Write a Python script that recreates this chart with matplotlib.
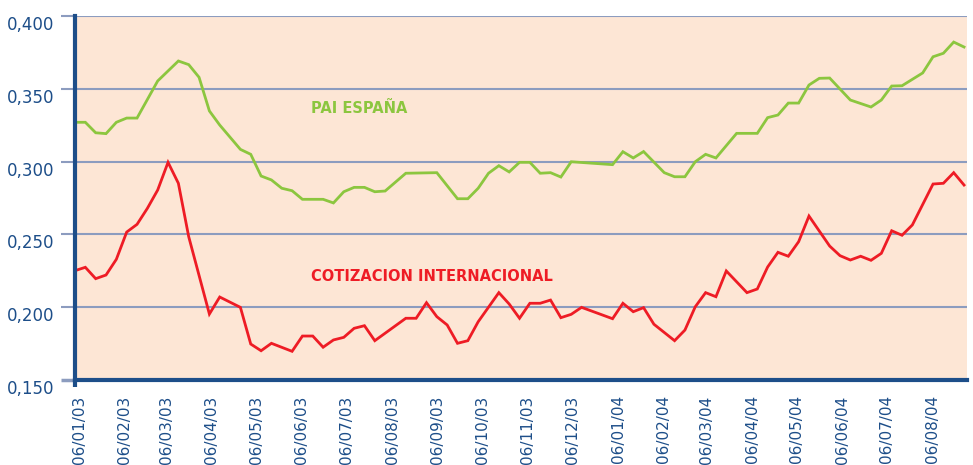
import datetime as dt
import matplotlib
matplotlib.use("Agg")
import matplotlib.pyplot as plt
import matplotlib.dates as mdates
import matplotlib.transforms as mtransforms

start = dt.date(2003, 1, 6)

# weekly series, week number counted from 06/01/03
pai_weeks = [0, 1, 2, 3, 4, 5, 6, 8, 10, 11, 12, 13, 14, 16, 17, 18, 19, 20, 21, 22,
             24, 25, 26, 27, 28, 29, 30, 32, 35, 37, 38, 39, 40, 41, 42, 43, 44, 45,
             46, 47, 48, 52, 53, 54, 55, 57, 58, 59, 60, 61, 62, 64, 66, 67, 68, 69,
             70, 71, 72, 73, 75, 77, 78, 79, 80, 82, 83, 84, 85, 86]
pai_values = [0.3270, 0.3270, 0.3198, 0.3192, 0.3270, 0.3299, 0.3299, 0.3554, 0.3691,
              0.3666, 0.3579, 0.3348, 0.3251, 0.3084, 0.3050, 0.2901, 0.2874, 0.2817,
              0.2800, 0.2741, 0.2741, 0.2716, 0.2793, 0.2823, 0.2823, 0.2793, 0.2798,
              0.2920, 0.2924, 0.2745, 0.2745, 0.2817, 0.2920, 0.2972, 0.2929, 0.2995,
              0.2995, 0.2920, 0.2924, 0.2894, 0.2999, 0.2979, 0.3068, 0.3025, 0.3069,
              0.2924, 0.2896, 0.2896, 0.2999, 0.3050, 0.3025, 0.3194, 0.3194, 0.3302,
              0.3320, 0.3402, 0.3402, 0.3526, 0.3572, 0.3574, 0.3423, 0.3375, 0.3423,
              0.3519, 0.3521, 0.3609, 0.3720, 0.3744, 0.3821, 0.3787]

cot_weeks = [0, 1, 2, 3, 4, 5, 6, 7, 8, 9, 10, 11, 13, 14, 16, 17, 18, 19, 21, 22, 23,
             24, 25, 26, 27, 28, 29, 32, 33, 34, 35, 36, 37, 38, 39, 41, 42, 43, 44, 45,
             46, 47, 48, 49, 52, 53, 54, 55, 56, 58, 59, 60, 61, 62, 63, 65, 66, 67, 68,
             69, 70, 71, 73, 74, 75, 76, 77, 78, 79, 80, 81, 83, 84, 85, 86]
cot_values = [0.2251, 0.2274, 0.2196, 0.2221, 0.2329, 0.2516, 0.2569, 0.2679, 0.2805,
              0.2995, 0.2851, 0.2484, 0.1953, 0.2070, 0.1999, 0.1747, 0.1701, 0.1752,
              0.1697, 0.1802, 0.1802, 0.1725, 0.1775, 0.1793, 0.1855, 0.1873, 0.1770,
              0.1924, 0.1924, 0.2031, 0.1935, 0.1878, 0.1752, 0.1770, 0.1900, 0.2100,
              0.2022, 0.1924, 0.2027, 0.2027, 0.2049, 0.1928, 0.1951, 0.1999, 0.1921,
              0.2027, 0.1969, 0.1997, 0.1883, 0.1770, 0.1843, 0.2003, 0.2100, 0.2072,
              0.2249, 0.2100, 0.2125, 0.2276, 0.2377, 0.2350, 0.2450, 0.2626, 0.2420,
              0.2354, 0.2324, 0.2350, 0.2322, 0.2370, 0.2525, 0.2494, 0.2565, 0.2846,
              0.2851, 0.2924, 0.2839]

tick_dates = [dt.date(2003, m, 6) for m in range(1, 13)] + [dt.date(2004, m, 6) for m in range(1, 9)]
y_ticks = [0.150, 0.200, 0.250, 0.300, 0.350, 0.400]

blue = "#1d4e89"
grid_col = "#8c9cbf"
green = "#8cc63f"
red = "#ee1c25"

pai_dates = [start + dt.timedelta(weeks=w) for w in pai_weeks]
cot_dates = [start + dt.timedelta(weeks=w) for w in cot_weeks]

fig = plt.figure(figsize=(9.73, 4.65), dpi=100)
ax = fig.add_axes([75 / 973, 1 - 380 / 465, 892 / 973, 364 / 465])
ax.set_facecolor("#fde6d5")

ax.plot(pai_dates, pai_values, color=green, lw=2, solid_joinstyle="miter", zorder=3)
ax.plot(cot_dates, cot_values, color=red, lw=2, solid_joinstyle="miter", zorder=3)

ax.set_xlim(start, dt.date(2004, 9, 1))
ax.set_ylim(0.150, 0.400)

ax.set_yticks(y_ticks)
ax.set_yticklabels([f"{v:.3f}".replace(".", ",") for v in y_ticks])
ax.set_xticks(tick_dates)
ax.xaxis.set_major_formatter(mdates.DateFormatter("%d/%m/%y"))

ax.grid(axis="y", color=grid_col, lw=1.5, zorder=1)
ax.tick_params(axis="y", length=10, width=1.5, color=grid_col, pad=5,
               labelsize=12, labelcolor=blue)
ax.tick_params(axis="x", length=0, pad=11, labelsize=11, labelcolor=blue,
               labelrotation=90)
ax.yaxis.get_major_ticks()[0].tick1line.set_color(blue)
ax.yaxis.get_major_ticks()[0].tick1line.set_markeredgewidth(2.5)

yoff = mtransforms.ScaledTranslation(0, -7 / 100, fig.dpi_scale_trans)
for lab in ax.get_yticklabels():
    lab.set_transform(lab.get_transform() + yoff)
xoff = mtransforms.ScaledTranslation(4 / 100, 0, fig.dpi_scale_trans)
for lab in ax.get_xticklabels():
    lab.set_transform(lab.get_transform() + xoff)

for s in ["top", "right"]:
    ax.spines[s].set_visible(False)
ax.spines["left"].set_color(blue)
ax.spines["left"].set_linewidth(3)
ax.spines["bottom"].set_color(blue)
ax.spines["bottom"].set_linewidth(3)
ax.spines["left"].set_zorder(4)
ax.spines["bottom"].set_zorder(4)
# short extension of the y axis below the x axis
ax.plot([0, 0], [0, -7 / 364], transform=ax.transAxes, color=blue, lw=3,
        clip_on=False, solid_capstyle="butt", zorder=5)

ax.text(0.2646, 0.747, "PAI ESPAÑA", transform=ax.transAxes, color=green,
        fontsize=10.5, fontweight="bold", va="center", ha="left")
ax.text(0.2646, 0.283, "COTIZACION INTERNACIONAL", transform=ax.transAxes, color=red,
        fontsize=10.5, fontweight="bold", va="center", ha="left")

fig.savefig("out.png", dpi=100)
